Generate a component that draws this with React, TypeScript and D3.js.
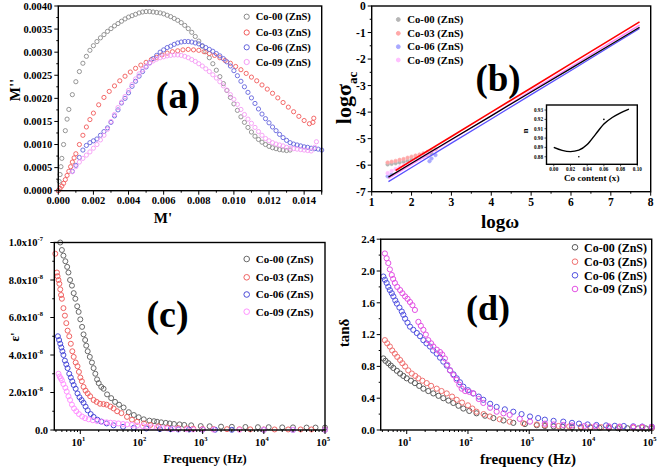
import React from 'react';
import * as d3 from 'd3';

type P = [number, number];

const FONT = '"Liberation Serif", "Times New Roman", serif';
const SERIES = ['Co-00 (ZnS)', 'Co-03 (ZnS)', 'Co-06 (ZnS)', 'Co-09 (ZnS)'];

// ---------- (a) electric modulus: M' vs M'' ----------
const a00: P[] = [[0,0],[0.00005,0.0002],[0.0001,0.00035],[0.00015,0.00052],[0.0002,0.0007],[0.0003,0.001],[0.0004,0.0013],[0.0005,0.00155],[0.0006,0.00176],[0.0008,0.00208],[0.0010,0.00236],[0.0012,0.00258],[0.0014,0.00276],[0.0016,0.00291],[0.0018,0.00304],[0.0020,0.00314],[0.0022,0.00323],[0.0024,0.00331],[0.0026,0.00338],[0.0028,0.00345],[0.0030,0.00351],[0.0032,0.00357],[0.0034,0.00362],[0.0036,0.00367],[0.0038,0.00372],[0.0040,0.00376],[0.0042,0.00379],[0.0044,0.00382],[0.0046,0.00385],[0.0048,0.00387],[0.0050,0.00388],[0.0052,0.00388],[0.0054,0.00387],[0.0056,0.00386],[0.0058,0.00385],[0.0060,0.00383],[0.0062,0.0038],[0.0064,0.00377],[0.0066,0.00373],[0.0068,0.00369],[0.0070,0.00364],[0.0072,0.00358],[0.0074,0.00351],[0.0076,0.00343],[0.0078,0.00334],[0.0080,0.00324],[0.0082,0.00313],[0.0084,0.00301],[0.0086,0.00288],[0.0088,0.00275],[0.0090,0.00261],[0.0092,0.00247],[0.0094,0.00232],[0.0096,0.00217],[0.0098,0.00202],[0.0100,0.00188],[0.0102,0.00174],[0.0104,0.0016],[0.0106,0.00148],[0.0108,0.00137],[0.0110,0.00127],[0.0112,0.00118],[0.0114,0.00111],[0.0116,0.00105],[0.0118,0.001],[0.0120,0.00096],[0.0122,0.00093],[0.0124,0.00091],[0.0126,0.00089],[0.0128,0.00088],[0.0130,0.00087],[0.0132,0.00088]];
const a03: P[] = [[0,0],[0.0001,0.00005],[0.0002,0.0001],[0.0003,0.00016],[0.0004,0.00024],[0.0005,0.00033],[0.0006,0.00042],[0.0007,0.00052],[0.0008,0.00062],[0.0009,0.00071],[0.0010,0.0008],[0.0012,0.001],[0.0014,0.0012],[0.0016,0.00138],[0.0018,0.00154],[0.0020,0.00168],[0.0023,0.00186],[0.0026,0.00202],[0.0029,0.00215],[0.0032,0.00227],[0.0035,0.00238],[0.0038,0.00248],[0.0041,0.00257],[0.0044,0.00265],[0.0047,0.00272],[0.0050,0.00278],[0.0053,0.00284],[0.0056,0.00289],[0.0059,0.00294],[0.0062,0.00298],[0.0065,0.00301],[0.0068,0.00303],[0.0071,0.00305],[0.0074,0.00306],[0.0077,0.00305],[0.0080,0.00304],[0.0083,0.00301],[0.0086,0.00297],[0.0089,0.00293],[0.0092,0.00288],[0.0095,0.00282],[0.0098,0.00276],[0.0101,0.00269],[0.0104,0.00262],[0.0107,0.00254],[0.0110,0.00246],[0.0113,0.00238],[0.0116,0.00229],[0.0119,0.0022],[0.0122,0.00211],[0.0125,0.00201],[0.0128,0.00191],[0.0131,0.00181],[0.0134,0.00171],[0.0137,0.00161],[0.0140,0.00152],[0.0143,0.00145],[0.0145,0.00148],[0.01455,0.00157]];
const a06: P[] = [[0.0008,0.00042],[0.0010,0.00055],[0.0012,0.00072],[0.0014,0.00088],[0.0016,0.00098],[0.0018,0.00104],[0.0020,0.00108],[0.0022,0.00112],[0.0024,0.0012],[0.0026,0.00128],[0.0028,0.00136],[0.0030,0.00148],[0.0032,0.00162],[0.0034,0.00175],[0.0036,0.0019],[0.0038,0.002],[0.0040,0.00212],[0.0042,0.00226],[0.0044,0.00237],[0.0046,0.00248],[0.0048,0.00258],[0.0050,0.00268],[0.0052,0.00277],[0.0054,0.00286],[0.0056,0.00293],[0.0058,0.003],[0.0060,0.00305],[0.0062,0.0031],[0.0064,0.00313],[0.0066,0.00317],[0.0068,0.0032],[0.0070,0.00322],[0.0072,0.00323],[0.0074,0.00323],[0.0076,0.00322],[0.0078,0.0032],[0.0080,0.00318],[0.0082,0.00314],[0.0084,0.0031],[0.0086,0.00306],[0.0088,0.00302],[0.0090,0.00297],[0.0092,0.00292],[0.0094,0.00286],[0.0096,0.00279],[0.0098,0.0027],[0.0100,0.0026],[0.0102,0.00249],[0.0104,0.00237],[0.0106,0.00225],[0.0108,0.00213],[0.0110,0.00201],[0.0112,0.00189],[0.0114,0.00177],[0.0116,0.00166],[0.0118,0.00156],[0.0120,0.00147],[0.0122,0.00138],[0.0124,0.0013],[0.0126,0.00122],[0.0128,0.00115],[0.0130,0.00109],[0.0132,0.00104],[0.0134,0.00101],[0.0136,0.00099],[0.0138,0.00097],[0.0140,0.00095],[0.0142,0.00094],[0.0144,0.00092],[0.0146,0.00091],[0.0148,0.0009],[0.0150,0.00088]];
const a09: P[] = [[0.0008,0.00041],[0.0010,0.00052],[0.0012,0.00062],[0.0014,0.0007],[0.0016,0.00077],[0.0018,0.00084],[0.0020,0.00092],[0.0022,0.001],[0.0024,0.0011],[0.0026,0.0012],[0.0028,0.00133],[0.0030,0.0015],[0.0032,0.00165],[0.0034,0.0018],[0.0036,0.00192],[0.0038,0.00204],[0.0040,0.00217],[0.0042,0.0023],[0.0044,0.00242],[0.0046,0.00253],[0.0048,0.00262],[0.0050,0.0027],[0.0052,0.00276],[0.0054,0.00281],[0.0056,0.00285],[0.0058,0.00288],[0.0060,0.0029],[0.0062,0.00292],[0.0064,0.00293],[0.0066,0.00294],[0.0068,0.00294],[0.0070,0.00293],[0.0072,0.00291],[0.0074,0.00288],[0.0076,0.00284],[0.0078,0.0028],[0.0080,0.00275],[0.0082,0.0027],[0.0084,0.00264],[0.0086,0.00258],[0.0088,0.00251],[0.0090,0.00244],[0.0092,0.00236],[0.0094,0.00227],[0.0096,0.00218],[0.0098,0.00208],[0.0100,0.00198],[0.0102,0.00187],[0.0104,0.00176],[0.0106,0.00165],[0.0108,0.00155],[0.0110,0.00146],[0.0112,0.00137],[0.0114,0.00128],[0.0116,0.0012],[0.0118,0.00113],[0.0120,0.00108],[0.0122,0.00104],[0.0124,0.00101],[0.0126,0.00099],[0.0128,0.00097],[0.0130,0.00094],[0.0132,0.00092],[0.0134,0.00091],[0.0136,0.0009],[0.0138,0.00089],[0.0140,0.00088],[0.0142,0.00087],[0.0144,0.00086],[0.0146,0.00094],[0.0147,0.00106]];
const aTicksY = [0, 0.0005, 0.001, 0.0015, 0.002, 0.0025, 0.003, 0.0035, 0.004];
const aTicksX = [0, 0.002, 0.004, 0.006, 0.008, 0.01, 0.012, 0.014];

// ---------- (b) log sigma_ac vs log omega ----------
const bFit00: P[] = [[1.42,-6.45],[2,-5.93],[3,-5.03],[4,-4.14],[5,-3.24],[6,-2.35],[7,-1.45],[7.72,-0.8]];
const bFit03: P[] = [[1.6,-6.2],[2,-5.83],[3,-4.92],[4,-4.0],[5,-3.09],[6,-2.17],[7,-1.26],[7.72,-0.6]];
const bFit06: P[] = [[1.42,-6.62],[2,-6.09],[3,-5.17],[4,-4.26],[5,-3.34],[6,-2.43],[7,-1.51],[7.72,-0.85]];
const bFit09: P[] = [[1.42,-6.5],[2,-5.97],[3,-5.05],[4,-4.13],[5,-3.2],[6,-2.29],[7,-1.37],[7.72,-0.72]];
const bLow00: P[] = [[1.4,-5.97],[1.5,-5.95],[1.6,-5.93],[1.7,-5.9],[1.8,-5.87],[1.9,-5.84],[2.0,-5.8],[2.1,-5.76],[2.2,-5.72],[2.3,-5.67],[2.4,-5.62],[2.5,-5.56]];
const bLow03: P[] = [[1.4,-5.9],[1.5,-5.87],[1.6,-5.84],[1.7,-5.8],[1.8,-5.77],[1.9,-5.72],[2.0,-5.68],[2.1,-5.64],[2.2,-5.6],[2.3,-5.55],[2.4,-5.5],[2.5,-5.45],[2.6,-5.4]];
const bLow06: P[] = [[1.4,-6.42],[1.5,-6.35],[2.45,-5.85],[2.5,-5.75],[2.6,-5.62]];
const bLow09: P[] = [[1.4,-6.3],[1.5,-6.22],[1.6,-6.15],[1.7,-6.08],[1.8,-6.02],[1.9,-5.96],[2.0,-5.9],[2.1,-5.83],[2.2,-5.76],[2.3,-5.68],[2.4,-5.6]];
const bTicksX = [1, 2, 3, 4, 5, 6, 7, 8];
const bTicksY = [0, -1, -2, -3, -4, -5, -6, -7];
// inset: exponent n vs Co content
const nCurve: P[] = [[0,0.89],[0.01,0.8868],[0.02,0.8855],[0.03,0.887],[0.04,0.893],[0.05,0.904],[0.06,0.915],[0.07,0.922],[0.08,0.927],[0.09,0.931]];
const nDots: P[] = [[0.03,0.88],[0.06,0.92]];
const nTicksX = [0, 0.02, 0.04, 0.06, 0.08, 0.1];
const nTicksY = [0.88, 0.89, 0.9, 0.91, 0.92, 0.93];

// ---------- (c) epsilon' vs frequency (values in units of 1e-8) ----------
const c00: P[] = [[4.7,10.0],[5.0,9.6],[5.3,9.3],[5.7,9.0],[6.1,8.7],[6.4,8.4],[6.8,8.0],[7.3,7.7],[7.8,7.3],[8.3,7.0],[8.9,6.6],[9.4,6.3],[10.0,5.9],[10.7,5.5],[11.3,5.1],[12.0,4.8],[12.5,4.5],[13.2,4.2],[14.3,3.9],[15.5,3.6],[16.5,3.3],[17.6,3.0],[18.8,2.7],[20,2.5],[22,2.3],[24,2.2],[27.4,1.9],[32,1.7],[37,1.5],[43,1.35],[51,1.2],[62,0.95],[75,0.8],[90,0.68],[109,0.57],[135,0.5],[160,0.47],[180,0.44],[210,0.41],[250,0.38],[290,0.35],[340,0.32],[420,0.3],[500,0.27],[650,0.25],[930,0.21],[1300,0.2],[2000,0.18],[3000,0.17],[5000,0.16],[8000,0.15],[12000,0.15],[20000,0.14],[30000,0.14],[50000,0.13],[70000,0.13],[100000,0.13]];
const c03: P[] = [[3.9,9.4],[4.15,8.4],[4.25,8.2],[4.4,8.0],[4.55,7.8],[4.7,7.5],[4.85,7.2],[5.0,7.0],[5.3,6.5],[5.6,6.1],[5.9,5.7],[6.2,5.3],[6.6,5.0],[7.0,4.6],[7.4,4.2],[7.8,3.9],[8.4,3.6],[9.0,3.4],[9.5,3.1],[10,2.8],[10.6,2.6],[11.3,2.3],[12.2,2.1],[13.2,1.95],[14.5,1.8],[16.5,1.6],[18.5,1.5],[21,1.4],[24,1.38],[27,1.35],[31,1.25],[35,1.15],[40,1.0],[47,0.9],[58,0.7],[70,0.55],[85,0.44],[110,0.35],[140,0.27],[190,0.2],[265,0.14],[400,0.1],[550,0.085],[700,0.07],[1000,0.06],[1500,0.05],[2500,0.045],[4000,0.04],[6000,0.035],[10000,0.03],[15000,0.03],[25000,0.03],[40000,0.03],[60000,0.03],[100000,0.03]];
const c06: P[] = [[4.3,5.0],[4.5,4.8],[4.7,4.6],[4.9,4.4],[5.1,4.2],[5.3,4.0],[5.6,3.7],[5.9,3.5],[6.2,3.3],[6.6,3.0],[7.0,2.8],[7.4,2.6],[7.8,2.4],[8.4,2.2],[9.0,1.95],[9.7,1.75],[10.5,1.6],[11.3,1.45],[12.2,1.25],[13.2,1.05],[14.8,0.85],[16.5,0.7],[19,0.55],[22,0.45],[27,0.35],[35,0.25],[50,0.17],[75,0.12],[120,0.08],[200,0.05],[300,0.04],[400,0.03],[600,0.025],[1000,0.02],[1600,0.015],[3000,0.01],[10000,0.01],[30000,0.01],[100000,0.01]];
const c09: P[] = [[4.4,3.0],[4.6,2.85],[4.8,2.75],[5.0,2.65],[5.3,2.45],[5.7,2.25],[6.0,2.05],[6.4,1.8],[6.8,1.6],[7.3,1.35],[7.9,1.15],[8.6,1.0],[9.5,0.85],[10.7,0.72],[12,0.63],[13.7,0.57],[16,0.52],[18.8,0.48],[23,0.44],[27,0.41],[31,0.39],[36,0.37],[42,0.35],[50,0.32],[58,0.3],[70,0.27],[85,0.24],[105,0.21],[124,0.18],[150,0.15],[180,0.13],[220,0.1],[265,0.08],[330,0.06],[400,0.05],[550,0.04],[700,0.03],[1000,0.025],[1500,0.02],[4000,0.01],[10000,0.01],[30000,0.01],[100000,0.01]];
const cTicksY = [0, 2, 4, 6, 8, 10];

// ---------- (d) tan delta vs frequency ----------
const d00: P[] = [[4.15,0.9],[4.5,0.87],[5.0,0.84],[5.5,0.81],[6.05,0.78],[6.9,0.745],[7.8,0.71],[8.8,0.68],[10,0.65],[11.7,0.62],[13.6,0.59],[16,0.555],[18.7,0.52],[22.5,0.49],[27.2,0.46],[33,0.43],[39.6,0.4],[48,0.37],[57.7,0.34],[70,0.305],[84,0.27],[105,0.24],[138,0.21],[190,0.18],[260,0.15],[380,0.12],[550,0.09],[850,0.075],[1330,0.06],[1800,0.05],[2500,0.045],[3500,0.04],[5000,0.035],[7000,0.032],[10000,0.03],[14000,0.028],[20000,0.025],[28000,0.023],[40000,0.022],[60000,0.02],[80000,0.02],[100000,0.02]];
const d03: P[] = [[4.4,1.13],[4.8,1.09],[5.3,1.05],[5.8,1.0],[6.4,0.96],[7.0,0.92],[7.8,0.88],[8.5,0.84],[9.4,0.8],[10.6,0.75],[12.1,0.71],[13.8,0.68],[15.5,0.65],[18,0.62],[21.2,0.59],[25,0.555],[30.9,0.52],[37,0.49],[45,0.46],[55,0.42],[65.5,0.38],[80,0.345],[100,0.31],[118,0.27],[138,0.23],[180,0.2],[228,0.17],[330,0.135],[480,0.105],[800,0.085],[1330,0.07],[1800,0.06],[3000,0.05],[4500,0.045],[7000,0.04],[10000,0.038],[15000,0.035],[20000,0.035],[30000,0.033],[50000,0.03],[70000,0.03],[100000,0.03]];
const d06: P[] = [[4.15,1.93],[4.4,1.89],[4.7,1.85],[5.0,1.8],[5.3,1.76],[5.7,1.72],[6.05,1.68],[6.5,1.63],[6.9,1.59],[7.6,1.54],[8.3,1.49],[8.8,1.45],[9.4,1.4],[10.3,1.35],[11.3,1.3],[12.8,1.26],[14.6,1.22],[16.5,1.18],[18.7,1.13],[21,1.09],[24,1.05],[27,1.0],[30.9,0.96],[35,0.91],[39.6,0.86],[45,0.81],[51,0.75],[58,0.7],[65.5,0.65],[74,0.6],[84,0.545],[100,0.5],[122,0.46],[150,0.42],[178,0.38],[230,0.33],[294,0.29],[400,0.26],[550,0.23],[750,0.2],[1030,0.17],[1400,0.15],[1800,0.13],[2500,0.115],[3600,0.105],[5000,0.09],[6500,0.08],[9000,0.07],[12500,0.063],[18000,0.058],[25000,0.053],[35000,0.05],[50000,0.046],[70000,0.043],[100000,0.042]];
const d09: P[] = [[4.4,2.22],[4.7,2.16],[5.0,2.1],[5.3,2.02],[5.7,1.95],[6.0,1.9],[6.4,1.85],[7.0,1.8],[7.8,1.76],[8.5,1.72],[9.4,1.68],[10.3,1.65],[11.3,1.61],[12.4,1.57],[13.6,1.51],[15.5,1.36],[17,1.31],[18.7,1.26],[20.5,1.2],[22.5,1.13],[25,1.09],[27.2,1.05],[31,1.01],[35,0.98],[38,0.95],[42,0.9],[46,0.82],[51,0.75],[58,0.69],[65,0.63],[72,0.57],[79,0.52],[90,0.49],[105,0.48],[122,0.46],[150,0.39],[178,0.34],[230,0.28],[294,0.23],[380,0.21],[480,0.19],[700,0.14],[1030,0.105],[1800,0.08],[2500,0.07],[3600,0.063],[5000,0.057],[8000,0.05],[12000,0.047],[20000,0.045],[30000,0.043],[50000,0.04],[70000,0.04],[100000,0.04]];
const dTicksY = [0, 0.4, 0.8, 1.2, 1.6, 2.0, 2.4];
const decades = [1, 2, 3, 4, 5];

const COL_A = ['#8a8a8a', '#f25a5a', '#6464dc', '#f59cf5'];
const COL_B_LINE = ['#000000', '#ff0000', '#5a50ff', '#ff80ff'];
const COL_B_PT = ['#b5b5b5', '#ffa8a8', '#a8a8ff', '#ffc0ff'];
const COL_C = ['#686868', '#f06262', '#4a4ad8', '#ff92ff'];
const COL_D = ['#5a5a5a', '#f07272', '#5252e0', '#e452e4'];

const bold = { fontFamily: FONT, fontWeight: 700 } as const;

function Circles({ data, sx, sy, color, r, sw }: any) {
  return (
    <g fill="none" stroke={color} strokeWidth={sw}>
      {data.map((d: P, i: number) => (
        <circle key={i} cx={sx(d[0])} cy={sy(d[1])} r={r} />
      ))}
    </g>
  );
}

function Frame({ sx, sy }: any) {
  const [x0, x1] = sx.range();
  const [y0, y1] = sy.range();
  return <rect x={x0} y={y1} width={x1 - x0} height={y0 - y1} fill="none" stroke="#000" strokeWidth={1.4} />;
}

function Legend({ x, ys, colors, size, r, filled }: any) {
  return (
    <g>
      {SERIES.map((s, i) => (
        <g key={s}>
          <circle cx={x} cy={ys[i]} r={r} fill={filled ? colors[i] : 'none'} stroke={colors[i]} strokeWidth={1} />
          <text x={x + 9} y={ys[i] + size * 0.35} fontSize={size} style={bold}>{s}</text>
        </g>
      ))}
    </g>
  );
}

function logMinors(domain: number[]) {
  const out: number[] = [];
  for (let e = 0; e <= 5; e++) for (let m = 2; m <= 9; m++) {
    const v = m * Math.pow(10, e);
    if (v >= domain[0] && v <= domain[1]) out.push(v);
  }
  return out;
}

export default function App() {
  // ---- scales ----
  const ax = d3.scaleLinear().domain([0, 0.015]).range([58.3, 321.7]);
  const ay = d3.scaleLinear().domain([0, 0.004]).range([190.7, 6]);
  const bx = d3.scaleLinear().domain([1, 8]).range([371.7, 650.7]);
  const by = d3.scaleLinear().domain([-7, 0]).range([191.7, 6]);
  const ix = d3.scaleLinear().domain([-0.0087, 0.1]).range([546.5, 637.3]);
  const iy = d3.scaleLinear().domain([0.8719, 0.9354]).range([164.3, 105]);
  const fDom = [Math.pow(10, 0.575), 1e5];
  const cx = d3.scaleLog().domain(fDom).range([54.3, 325]);
  const cy = d3.scaleLinear().domain([0, 10]).range([430, 242.5]);
  const dx = d3.scaleLog().domain(fDom).range([380.7, 651.7]);
  const dy = d3.scaleLinear().domain([0, 2.4]).range([430, 239.2]);

  const bLine = (s: any) => d3.line<P>().x(d => bx(d[0])).y(d => by(d[1]))(s) as string;
  const nLine = d3.line<P>().x(d => ix(d[0])).y(d => iy(d[1])).curve(d3.curveMonotoneX)(nCurve) as string;

  const aSeries = [a00, a03, a06, a09];
  const cSeries = [c00, c03, c06, c09];
  const dSeries = [d00, d03, d06, d09];
  const bFits = [bFit00, bFit03, bFit06, bFit09];
  const bLows = [bLow00, bLow03, bLow06, bLow09];

  const minors = logMinors(fDom);

  return (
    <svg width={661} height={470} viewBox="0 0 661 470" style={{ position: 'absolute', left: 0, top: 0, background: '#fff' }}>
      <rect width={661} height={470} fill="#fff" />

      {/* ================= (a) ================= */}
      <g>
        {aSeries.map((s, i) => <Circles key={i} data={s} sx={ax} sy={ay} color={COL_A[i]} r={2.1} sw={0.9} />)}
        <Frame sx={ax} sy={ay} />
        <g stroke="#000" strokeWidth={1}>
          {aTicksY.map(t => <line key={t} x1={ax(0) - 4} x2={ax(0)} y1={ay(t)} y2={ay(t)} />)}
          {aTicksY.slice(0, -1).map(t => <line key={'m' + t} x1={ax(0) - 2} x2={ax(0)} y1={ay(t + 0.00025)} y2={ay(t + 0.00025)} />)}
          {aTicksX.concat([0.015]).map(t => <line key={t} x1={ax(t)} x2={ax(t)} y1={ay(0)} y2={ay(0) + 4} />)}
          {aTicksX.map(t => <line key={'m' + t} x1={ax(t + 0.001)} x2={ax(t + 0.001)} y1={ay(0)} y2={ay(0) + 2} />)}
        </g>
        {aTicksY.map(t => <text key={t} x={ax(0) - 6} y={ay(t) + 3.6} fontSize={10.5} textAnchor="end" style={bold}>{t.toFixed(4)}</text>)}
        {aTicksX.map(t => <text key={t} x={ax(t)} y={ay(0) + 13.5} fontSize={10.5} textAnchor="middle" style={bold}>{t.toFixed(3)}</text>)}
        <text x={163} y={223} fontSize={15} textAnchor="middle" style={bold}>M'</text>
        <text transform="translate(20,90) rotate(-90)" fontSize={15} textAnchor="middle" style={bold}>M''</text>
        <text x={178} y={108} fontSize={38} textAnchor="middle" style={bold}>(a)</text>
        <Legend x={246.7} ys={[16.7, 32.5, 47.3, 62]} colors={COL_A} size={10.5} r={2.6} />
      </g>

      {/* ================= (b) ================= */}
      <g>
        {bLows.map((s, i) => (
          <g key={i}>{s.map((d, j) => <circle key={j} cx={bx(d[0])} cy={by(d[1])} r={1.8} fill={COL_B_PT[i]} stroke={COL_B_PT[i]} strokeWidth={0.6} />)}</g>
        ))}
        {[3, 2, 0, 1].map(i => (
          <path key={i} d={bLine(bFits[i])} fill="none" stroke={COL_B_LINE[i]} strokeWidth={i === 1 ? 1.6 : 1.3} />
        ))}
        <Frame sx={bx} sy={by} />
        <g stroke="#000" strokeWidth={1}>
          {bTicksY.map(t => <line key={t} x1={bx(1) - 4} x2={bx(1)} y1={by(t)} y2={by(t)} />)}
          {bTicksY.slice(1).map(t => <line key={'m' + t} x1={bx(1) - 2} x2={bx(1)} y1={by(t + 0.5)} y2={by(t + 0.5)} />)}
          {bTicksX.map(t => <line key={t} x1={bx(t)} x2={bx(t)} y1={by(-7)} y2={by(-7) + 4} />)}
          {bTicksX.slice(0, -1).map(t => <line key={'m' + t} x1={bx(t + 0.5)} x2={bx(t + 0.5)} y1={by(-7)} y2={by(-7) + 2} />)}
        </g>
        {bTicksY.map(t => <text key={t} x={bx(1) - 6} y={by(t) + 4} fontSize={11.5} textAnchor="end" style={bold}>{t === 0 ? '0' : '-' + Math.abs(t)}</text>)}
        {bTicksX.map(t => <text key={t} x={bx(t)} y={by(-7) + 14.5} fontSize={11.5} textAnchor="middle" style={bold}>{t}</text>)}
        <text x={500} y={228} fontSize={19} textAnchor="middle" style={bold}>logω</text>
        <text transform="translate(351,98) rotate(-90)" fontSize={22} textAnchor="middle" style={bold}>
          logσ<tspan fontSize={13} dy={6}>ac</tspan>
        </text>
        <text x={498} y={91} fontSize={37} textAnchor="middle" style={bold}>(b)</text>
        <Legend x={398.3} ys={[19.5, 33.3, 46.7, 60]} colors={COL_B_PT} size={10.7} r={1.9} filled />

        {/* inset */}
        <path d={nLine} fill="none" stroke="#000" strokeWidth={1.4} />
        {nDots.map((d, j) => <circle key={j} cx={ix(d[0])} cy={iy(d[1])} r={0.8} fill="#000" />)}
        <Frame sx={ix} sy={iy} />
        <g stroke="#000" strokeWidth={0.7}>
          {nTicksX.map(t => <line key={t} x1={ix(t)} x2={ix(t)} y1={iy.range()[0]} y2={iy.range()[0] + 2} />)}
          {nTicksY.map(t => <line key={t} x1={546.5 - 2} x2={546.5} y1={iy(t)} y2={iy(t)} />)}
        </g>
        {nTicksX.map(t => <text key={t} x={ix(t)} y={171} fontSize={5.2} textAnchor="middle" style={bold}>{t.toFixed(2)}</text>)}
        {nTicksY.map(t => <text key={t} x={543} y={iy(t) + 1.8} fontSize={5.2} textAnchor="end" style={bold}>{t.toFixed(2)}</text>)}
        <text x={591.7} y={181} fontSize={9.2} textAnchor="middle" style={bold}>Co content (x)</text>
        <text transform="translate(528,131) rotate(-90)" fontSize={9} textAnchor="middle" style={bold}>n</text>
      </g>

      {/* ================= (c) ================= */}
      <g>
        {cSeries.map((s, i) => <Circles key={i} data={s} sx={cx} sy={cy} color={COL_C[i]} r={2.5} sw={1} />)}
        <Frame sx={cx} sy={cy} />
        <g stroke="#000" strokeWidth={1}>
          {cTicksY.map(t => <line key={t} x1={cx.range()[0] - 4} x2={cx.range()[0]} y1={cy(t)} y2={cy(t)} />)}
          {cTicksY.slice(0, -1).map(t => <line key={'m' + t} x1={cx.range()[0] - 2} x2={cx.range()[0]} y1={cy(t + 1)} y2={cy(t + 1)} />)}
          {decades.map(e => <line key={e} x1={cx(Math.pow(10, e))} x2={cx(Math.pow(10, e))} y1={430} y2={434} />)}
          {minors.map(v => <line key={v} x1={cx(v)} x2={cx(v)} y1={430} y2={432} />)}
        </g>
        {cTicksY.map(t => (
          <text key={t} x={t === 0 ? 48 : 43} y={cy(t) + 3.8} fontSize={10.5} textAnchor="end" style={bold}>
            {t === 0 ? '0.0' : (t === 10 ? '1.0' : t.toFixed(1)) + 'x10'}
            {t !== 0 && <tspan fontSize={6.5} dy={-5}>{t === 10 ? '-7' : '-8'}</tspan>}
          </text>
        ))}
        {decades.map(e => (
          <text key={e} x={cx(Math.pow(10, e)) - 2} y={446} fontSize={10.5} textAnchor="middle" style={bold}>
            10<tspan fontSize={6.5} dy={-5}>{e}</tspan>
          </text>
        ))}
        <text x={205} y={463} fontSize={12.5} textAnchor="middle" style={bold}>Frequency (Hz)</text>
        <text transform="translate(19,337) rotate(-90)" fontSize={13} textAnchor="middle" style={bold}>ε'</text>
        <text x={167.5} y={327} fontSize={38} textAnchor="middle" style={bold}>(c)</text>
        <Legend x={246.7} ys={[259, 277.3, 294.5, 311.7]} colors={COL_C} size={11} r={2.8} />
      </g>

      {/* ================= (d) ================= */}
      <g>
        {dSeries.map((s, i) => <Circles key={i} data={s} sx={dx} sy={dy} color={COL_D[i]} r={2.6} sw={1} />)}
        <Frame sx={dx} sy={dy} />
        <g stroke="#000" strokeWidth={1}>
          {dTicksY.map(t => <line key={t} x1={dx.range()[0] - 4} x2={dx.range()[0]} y1={dy(t)} y2={dy(t)} />)}
          {dTicksY.slice(0, -1).map(t => <line key={'m' + t} x1={dx.range()[0] - 2} x2={dx.range()[0]} y1={dy(t + 0.2)} y2={dy(t + 0.2)} />)}
          {decades.map(e => <line key={e} x1={dx(Math.pow(10, e))} x2={dx(Math.pow(10, e))} y1={430} y2={434} />)}
          {minors.map(v => <line key={v} x1={dx(v)} x2={dx(v)} y1={430} y2={432} />)}
        </g>
        {dTicksY.map(t => <text key={t} x={375} y={dy(t) + 3.8} fontSize={11} textAnchor="end" style={bold}>{t.toFixed(1)}</text>)}
        {decades.map(e => (
          <text key={e} x={dx(Math.pow(10, e)) - 2} y={446} fontSize={10.5} textAnchor="middle" style={bold}>
            10<tspan fontSize={6.5} dy={-5}>{e}</tspan>
          </text>
        ))}
        <text x={528} y={464} fontSize={15} textAnchor="middle" style={bold}>frequency (Hz)</text>
        <text transform="translate(349,333) rotate(-90)" fontSize={15} textAnchor="middle" style={bold}>tanδ</text>
        <text x={488} y={320} fontSize={36} textAnchor="middle" style={bold}>(d)</text>
        <Legend x={575} ys={[247.3, 261.7, 275.3, 289]} colors={COL_D} size={12} r={2.8} />
      </g>
    </svg>
  );
}
